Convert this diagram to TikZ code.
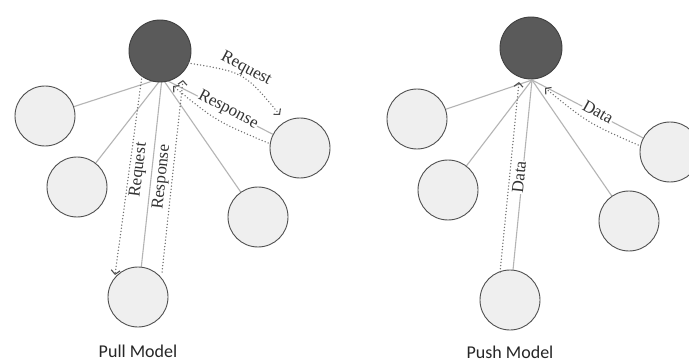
\documentclass[tikz,border=0pt]{standalone}
\usepackage{fontspec}
\setmainfont{Liberation Serif}
\newfontfamily\capfont{Carlito}
\usetikzlibrary{arrows.meta,calc,backgrounds}
\definecolor{darkfill}{HTML}{5A5A5A}
\definecolor{lightfill}{HTML}{EFEFEF}
\definecolor{rimcol}{HTML}{505050}
\definecolor{spoke}{HTML}{B4B4B4}
\definecolor{dotcol}{HTML}{6E6E6E}
\tikzset{
  hubnode/.style={circle,minimum size=62pt,inner sep=0pt,fill=darkfill,draw=black!75,line width=0.9pt},
  leafnode/.style={circle,minimum size=60pt,inner sep=0pt,fill=lightfill,draw=rimcol,line width=0.9pt},
  spokeline/.style={draw=spoke,line width=1.1pt},
  dotarrow/.style={draw=dotcol,line width=1.5pt,line cap=round,dash pattern=on 0pt off 3.2pt,
     -{Straight Barb[length=4pt,width=9pt,line width=1.1pt,line cap=butt,color=black!70]}},
  lbl/.style={font=\fontsize{17}{19}\selectfont,text=black!80,inner sep=0.5pt},
  lblw/.style={lbl,fill=white},
  caption/.style={font=\capfont\fontsize{18}{20}\selectfont,text=black!85,anchor=base}
}
\begin{document}
\begin{tikzpicture}[x=1pt,y=-1pt]
\useasboundingbox (0,0) rectangle (689,361);
\clip (0,0) rectangle (689,361);

% ---------- Pull model ----------
\node[hubnode]  (pd) at (160,51) {};
\node[leafnode] (p1) at (45,116) {};
\node[leafnode] (p2) at (77,187) {};
\node[leafnode] (p3) at (138,297) {};
\node[leafnode] (p4) at (258,217) {};
\node[leafnode] (p5) at (300,148) {};
\coordinate (phub) at ($(pd.center)+(2,27)$);

% ---------- Push model ----------
\node[hubnode]  (qd) at (531,48) {};
\node[leafnode] (q1) at (417,119) {};
\node[leafnode] (q2) at (448,190) {};
\node[leafnode] (q3) at (510,300) {};
\node[leafnode] (q4) at (629,221) {};
\node[leafnode] (q5) at (670,152) {};
\coordinate (qhub) at ($(qd.center)+(1,32)$);

\begin{pgfonlayer}{background}
  \fill[white] (0,0) rectangle (689,361);
  \foreach \n in {p1,p2,p3,p4,p5} \draw[spokeline] (phub) -- (\n);
  \foreach \n in {q1,q2,q3,q4,q5} \draw[spokeline] (qhub) -- (\n);
\end{pgfonlayer}

% pull arrows
\coordinate (preqS) at ($(pd.center)+(28,12)$);
\coordinate (preqE) at ($(p5.center)+(-20,-33)$);
\draw[dotarrow] (preqS) .. controls (244,72) .. (preqE);
\node[lbl,rotate=-28] (lreq1) at (246,69) {Request};

\coordinate (presS) at ($(p5.center)+(-32,-5)$);
\coordinate (presE) at ($(pd.center)+(13,35)$);
\draw[dotarrow] (presS) .. controls (216,121) .. (presE);
\node[lblw,rotate=-28] (lres1) at (228,110) {Response};

\coordinate (preq2S) at ($(pd.center)+(-18,25)$);
\coordinate (preq2E) at ($(p3.center)+(-23,-22)$);
\draw[dotarrow] (preq2S) -- (preq2E);
\node[lbl,rotate=83] (lreq2) at (139,170) {Request};

\coordinate (pres2S) at ($(p3.center)+(24,-25)$);
\coordinate (pres2E) at ($(pd.center)+(23,29)$);
\draw[dotarrow] (pres2S) -- (pres2E);
\node[lbl,rotate=84] (lres2) at (162,177) {Response};

\node[caption] (cpull) at (138,357) {Pull Model};

% push arrows
\coordinate (qd1S) at ($(q3.center)+(-10,-28)$);
\coordinate (qd1E) at ($(qd.center)+(-12,34)$);
\draw[dotarrow] (qd1S) -- (qd1E);
\node[lblw,rotate=84] (ldata1) at (519,177) {Data};

\coordinate (qd2S) at ($(q5.center)+(-32,-7)$);
\coordinate (qd2E) at ($(qd.center)+(14,40)$);
\draw[dotarrow] (qd2S) .. controls (588,123) .. (qd2E);
\node[lblw,rotate=-29] (ldata2) at (598,112) {Data};

\node[caption] (cpush) at (510,358) {Push Model};
\end{tikzpicture}
\end{document}
